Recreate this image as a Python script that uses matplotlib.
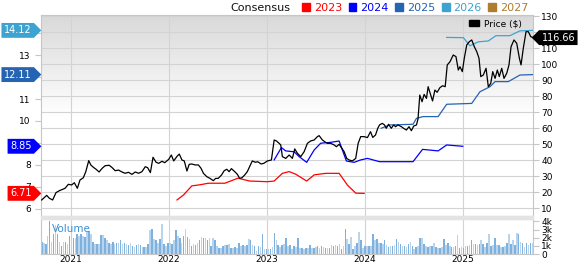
import matplotlib
matplotlib.use("Agg")
import matplotlib.pyplot as plt
import numpy as np
from matplotlib.colors import LinearSegmentedColormap
from matplotlib.patches import Patch, Rectangle
from matplotlib.path import Path
from matplotlib.transforms import blended_transform_factory

# ---- data (time in decimal years) ----
price_t = [
    2020.704, 2020.728, 2020.755, 2020.782, 2020.816, 2020.850, 2020.884, 2020.918, 2020.942, 2020.976,
    2021.010, 2021.037, 2021.068, 2021.095, 2021.129, 2021.154, 2021.184, 2021.205, 2021.232, 2021.259,
    2021.290, 2021.321, 2021.351, 2021.392, 2021.420, 2021.454, 2021.488, 2021.523, 2021.556, 2021.590,
    2021.625, 2021.659, 2021.693, 2021.727, 2021.761, 2021.785, 2021.813, 2021.840, 2021.871, 2021.898,
    2021.932, 2021.959, 2022.000, 2022.027, 2022.051, 2022.085, 2022.108, 2022.135, 2022.159, 2022.186,
    2022.209, 2022.236, 2022.270, 2022.303, 2022.330, 2022.354, 2022.388, 2022.421, 2022.455, 2022.479,
    2022.505, 2022.539, 2022.566, 2022.593, 2022.616, 2022.640, 2022.674, 2022.701, 2022.724, 2022.747,
    2022.775, 2022.802, 2022.825, 2022.853, 2022.883, 2022.909, 2022.943, 2022.970, 2022.994, 2023.007,
    2023.048, 2023.076, 2023.099, 2023.127, 2023.143, 2023.160, 2023.194, 2023.229, 2023.262, 2023.286,
    2023.313, 2023.347, 2023.382, 2023.415, 2023.449, 2023.484, 2023.517, 2023.535, 2023.568, 2023.592,
    2023.619, 2023.653, 2023.688, 2023.711, 2023.739, 2023.762, 2023.790, 2023.816, 2023.841, 2023.874,
    2023.908, 2023.933, 2023.959, 2023.994, 2024.028, 2024.059, 2024.082, 2024.110, 2024.133, 2024.151,
    2024.179, 2024.202, 2024.220, 2024.243, 2024.271, 2024.295, 2024.315, 2024.339, 2024.374, 2024.397,
    2024.425, 2024.452, 2024.476, 2024.500, 2024.528, 2024.544, 2024.562, 2024.585, 2024.606, 2024.630,
    2024.647, 2024.671, 2024.692, 2024.716, 2024.739, 2024.767, 2024.795, 2024.821, 2024.842, 2024.870,
    2024.903, 2024.931, 2024.955, 2024.972, 2024.996, 2025.016, 2025.041, 2025.067, 2025.092, 2025.118,
    2025.143, 2025.166, 2025.184, 2025.210, 2025.238, 2025.261, 2025.286, 2025.306, 2025.330, 2025.353,
    2025.373, 2025.398, 2025.421, 2025.449, 2025.472, 2025.493, 2025.523, 2025.551, 2025.578, 2025.595,
    2025.618, 2025.646, 2025.669, 2025.694, 2025.717,
]
price = [
    15.2, 16.6, 18.1, 16.3, 15.2, 19.8, 21.0, 21.9, 22.5, 25.0,
    24.6, 26.0, 22.5, 27.7, 29.1, 32.9, 39.8, 37.1, 35.6, 34.4,
    32.7, 35.0, 36.6, 36.9, 35.6, 33.5, 33.9, 32.7, 31.9, 32.5,
    31.2, 32.7, 31.9, 32.9, 36.0, 35.4, 32.3, 41.9, 38.8, 38.1,
    39.4, 38.5, 40.6, 43.3, 39.6, 42.5, 43.9, 40.2, 39.6, 33.3,
    37.5, 37.7, 37.1, 37.1, 35.0, 31.9, 29.8, 28.7, 27.3, 28.7,
    28.7, 30.8, 33.5, 34.4, 32.9, 34.8, 32.9, 31.2, 28.7, 29.1,
    30.8, 32.9, 36.0, 39.6, 38.8, 39.1, 37.7, 38.1, 39.1, 39.6,
    40.2, 52.7, 52.1, 50.6, 49.6, 42.3, 41.2, 43.3, 41.2, 47.1,
    44.4, 42.3, 45.4, 50.6, 52.1, 52.7, 54.8, 55.4, 52.7, 51.6,
    50.6, 50.6, 49.6, 48.5, 50.0, 47.9, 45.4, 41.2, 40.2, 39.6,
    41.2, 50.6, 54.8, 54.8, 54.2, 57.9, 54.3, 55.8, 60.0, 62.1,
    63.1, 62.1, 60.0, 62.5, 60.0, 62.1, 61.0, 62.1, 61.0, 60.0,
    58.9, 61.0, 58.5, 61.4, 62.1, 66.0, 80.8, 76.6, 81.2, 78.7,
    86.0, 81.2, 77.1, 83.9, 82.5, 85.4, 86.6, 86.0, 99.6, 101.6,
    105.8, 104.8, 96.4, 98.5, 95.4, 103.8, 112.1, 114.1, 115.2, 111.0,
    107.9, 103.8, 92.3, 93.3, 97.5, 86.0, 88.1, 95.4, 91.2, 96.4,
    92.3, 97.5, 91.2, 94.4, 99.6, 111.0, 115.2, 113.1, 103.8, 99.6,
    110.0, 120.4, 120.4, 117.3, 116.66,
]

cons_2023_t = [2022.085, 2022.152, 2022.236, 2022.320, 2022.404, 2022.573, 2022.707, 2022.825, 2023.007, 2023.076,
               2023.160, 2023.229, 2023.296, 2023.408, 2023.484, 2023.602, 2023.739, 2023.823, 2023.908, 2023.994]
cons_2023 = [6.41, 6.64, 7.05, 7.10, 7.17, 7.17, 7.40, 7.27, 7.24, 7.27,
             7.62, 7.70, 7.58, 7.27, 7.55, 7.62, 7.62, 7.09, 6.72, 6.71]
cons_2024_t = [2023.076, 2023.150, 2023.194, 2023.280, 2023.331, 2023.408, 2023.484, 2023.551, 2023.653, 2023.739,
               2023.813, 2023.892, 2023.959, 2024.028, 2024.151, 2024.493, 2024.590, 2024.749, 2024.836, 2025.000]
cons_2024 = [8.23, 8.79, 8.64, 8.60, 8.38, 8.12, 8.68, 8.99, 9.03, 9.09,
             8.18, 8.12, 8.23, 8.30, 8.15, 8.15, 8.71, 8.64, 8.91, 8.85]
cons_2025_t = [2024.168, 2024.254, 2024.493, 2024.528, 2024.595, 2024.749, 2024.836, 2025.092, 2025.176, 2025.278,
               2025.330, 2025.465, 2025.584, 2025.714]
cons_2025 = [9.67, 9.82, 9.85, 10.12, 10.20, 10.20, 10.76, 10.80, 11.33, 11.56,
             11.79, 11.79, 12.09, 12.11]
cons_2026_t = [2024.836, 2025.006, 2025.074, 2025.159, 2025.261, 2025.339, 2025.482, 2025.584, 2025.714]
cons_2026 = [13.80, 13.79, 13.42, 13.60, 13.64, 13.88, 13.88, 14.10, 14.12]

# weekly volume in thousands, Sep 2020 -> Sep 2025
volume_k = [
    1.5, 1.4, 1.2, 2.2, 4.1, 1.5, 2.5, 3.5, 2.5, 1.5, 1.0, 1.5, 1.5, 1.2, 2.2, 3.5, 1.9, 1.9, 2.5, 2.2,
    2.5, 2.2, 2.1, 2.7, 2.8, 2.5, 1.5, 1.2, 1.2, 1.2, 2.3, 2.3, 1.9, 1.7, 1.4, 1.2, 1.5, 1.2, 1.4, 1.4,
    1.7, 1.2, 1.4, 1.2, 1.1, 1.4, 1.0, 0.9, 1.1, 1.2, 1.1, 0.8, 0.9, 0.8, 1.2, 2.9, 3.1, 1.8, 1.7, 1.4,
    1.8, 3.7, 1.2, 1.0, 1.4, 1.4, 1.2, 1.7, 3.0, 2.2, 1.9, 1.4, 2.2, 3.1, 2.1, 1.8, 1.0, 1.2, 1.1, 1.4,
    1.7, 2.1, 1.9,
    1.9, 1.7, 1.9, 1.0, 1.9, 1.7, 1.0, 0.7, 0.7, 1.0, 1.1, 1.1, 1.2, 0.7, 0.7, 0.8, 0.7, 1.4, 1.0, 1.1,
    1.0, 1.1, 1.8, 1.7, 1.1, 1.0, 0.4, 1.0, 0.8, 2.4, 0.6, 0.6, 0.6, 0.6, 0.8, 2.6, 1.7, 1.1, 0.8, 1.1,
    1.2, 1.9, 1.0, 1.1, 0.6, 1.0, 0.8, 1.9, 0.7, 0.7, 0.6, 0.7, 0.7, 1.1, 0.7, 0.7, 0.8, 1.0, 0.7, 1.0,
    0.8, 0.7, 0.7, 0.7, 1.1, 1.0, 1.1, 1.0, 1.2, 0.6, 1.0, 3.1, 1.8, 1.2, 2.1, 0.6, 1.0, 1.4, 2.7, 1.7,
    0.7, 1.0, 1.0,
    1.0, 1.0, 2.4, 1.7, 1.8, 1.4, 1.4, 1.2, 1.7, 1.1, 0.8, 1.0, 1.0, 1.1, 1.8, 1.5, 1.2, 1.0, 1.0, 0.8,
    1.2, 1.5, 1.0, 0.6, 0.8, 1.0, 1.9, 1.9, 1.2, 1.0, 0.8, 1.0, 1.0, 1.4, 0.8, 0.7, 0.7, 0.8, 1.8, 1.1,
    1.4, 1.0, 0.8, 0.8, 1.0, 2.3, 0.7, 0.8, 0.7, 1.0, 1.0, 1.1, 1.7, 1.2, 1.2, 1.1, 1.2, 1.7, 1.2, 0.8,
    1.4, 2.5, 1.0, 1.1, 1.9, 1.1, 1.1, 0.8, 0.8, 1.0, 1.4, 2.5, 1.2, 1.7, 1.1, 2.6, 2.5, 1.5, 1.4, 0.8,
    1.4, 1.1, 1.4, 1.4,
]
volume_start, volume_end = 2020.705, 2025.712

years = [2021, 2022, 2023, 2024, 2025]
legend_years = ["2023", "2024", "2025", "2026", "2027"]
legend_colors = ["#ff0000", "#0000ff", "#2563b3", "#3fa3d2", "#b07d2e"]
eps_ticks = list(range(6, 15))
price_ticks = list(range(10, 131, 10))
vol_ticks = [0, 1, 2, 3, 4]
vol_labels = ["0", "1k", "2k", "3k", "4k"]

# ---- layout (pixel boxes of the 578x264 canvas) ----
W, H = 578, 264
fig = plt.figure(figsize=(W / 100, H / 100), dpi=100)


def rect(x0, y0, x1, y1):
    return [x0 / W, 1 - y1 / H, (x1 - x0) / W, (y1 - y0) / H]


price_box = rect(41, 15, 533, 216)
vol_box = rect(41, 218.5, 533, 254)
xlim = (2020.697, 2025.717)
price_lim = (5.2, 130.8)
eps_lim = (5.68, 14.82)
grid_c = "#d3d3d3"
frame_c = "#c6c6c6"
tick_fs = 6.5

# background with gradient + grid
bg = fig.add_axes(price_box)
cmap = LinearSegmentedColormap.from_list("bg", [(0, "white"), (0.5, "white"), (1, "#d9d9d9")])
bg.imshow(np.linspace(0, 1, 256)[:, None], extent=[0, 1, 0, 1], transform=bg.transAxes,
          origin="lower", aspect="auto", cmap=cmap, zorder=0)
bg.set_xlim(xlim)
bg.set_ylim(price_lim)
bg.set_xticks(years)
bg.set_yticks(price_ticks)
bg.grid(True, color=grid_c, lw=0.8)
bg.tick_params(left=False, bottom=False, labelleft=False, labelbottom=False)
for s in bg.spines.values():
    s.set_color(frame_c)

# consensus lines (left axis); labels under the value tags stay blank
ax_e = fig.add_axes(price_box, sharex=bg)
ax_e.patch.set_visible(False)
ax_e.set_ylim(eps_lim)
ax_e.set_yticks(eps_ticks, ["" if v in (9, 12, 14) else str(v) for v in eps_ticks])
ax_e.tick_params(axis="y", length=4.3, width=0.8, color=frame_c, pad=3, labelsize=tick_fs)
ax_e.tick_params(axis="x", bottom=False, labelbottom=False)
for s in ax_e.spines.values():
    s.set_visible(False)
series = [(cons_2023_t, cons_2023, legend_colors[0]),
          (cons_2024_t, cons_2024, legend_colors[1]),
          (cons_2025_t, cons_2025, legend_colors[2]),
          (cons_2026_t, cons_2026, legend_colors[3])]
for t, v, c in series:
    ax_e.plot(t, v, color=c, lw=0.9)

# price line (right axis)
ax_p = fig.add_axes(price_box, sharex=bg)
ax_p.patch.set_visible(False)
ax_p.set_ylim(price_lim)
ax_p.yaxis.tick_right()
ax_p.set_yticks(price_ticks, ["" if v == 120 else str(v) for v in price_ticks])
ax_p.tick_params(axis="y", length=4, width=0.8, color=frame_c, pad=2, labelsize=tick_fs)
ax_p.tick_params(axis="x", bottom=False, labelbottom=False)
for s in ax_p.spines.values():
    s.set_visible(False)
ax_p.plot(price_t, price, color="black", lw=0.9)
ax_p.legend([Patch(color="black")], ["Price ($)"], loc="upper right",
            bbox_to_anchor=(522 / W, 1 - 19 / H), bbox_transform=fig.transFigure,
            frameon=False, fontsize=6.5, handlelength=1.1, handleheight=0.55,
            handletextpad=0.6, borderpad=0, borderaxespad=0)

# volume panel
ax_v = fig.add_axes(vol_box, sharex=bg)
n = len(volume_k)
vol_t = volume_start + np.arange(n) * (volume_end - volume_start) / (n - 1)
bar_colors = ["#7eb1de" if i % 2 == 0 else "#b9d5ee" for i in range(n)]
ax_v.bar(vol_t, volume_k, width=0.016, color=bar_colors, zorder=2)
ax_v.set_ylim(0, 4.35)
ax_v.yaxis.tick_right()
ax_v.set_yticks(vol_ticks, vol_labels)
ax_v.set_xticks(years, [str(y) for y in years])
ax_v.grid(True, axis="x", color=grid_c, lw=0.8, zorder=1)
ax_v.tick_params(axis="y", length=4, width=0.8, color=frame_c, pad=2, labelsize=tick_fs)
ax_v.tick_params(axis="x", length=0, pad=0.6, labelsize=tick_fs)
for s in ax_v.spines.values():
    s.set_color(frame_c)
ax_v.text(0.022, 0.62, "Volume", transform=ax_v.transAxes, color="#3c8fd0", fontsize=7.5)
ax_v.set_xlim(xlim)

# band between panels
fig.patches.append(Rectangle((41 / W, 1 - 218.5 / H), 492 / W, 2.5 / H,
                             transform=fig.transFigure, color="#e3e3e3"))


# value tags
def tag_right(x0, y0, width, height, mutation_size):
    pad = 0.25 * mutation_size
    x0, y0, x1, y1 = x0 - pad, y0 - pad, x0 + width + pad, y0 + height + pad
    tip = (y1 - y0) * 0.5
    return Path([(x0, y0), (x1, y0), (x1 + tip, (y0 + y1) / 2), (x1, y1), (x0, y1), (x0, y0)], closed=True)


def tag_left(x0, y0, width, height, mutation_size):
    pad = 0.25 * mutation_size
    x0, y0, x1, y1 = x0 - pad, y0 - pad, x0 + width + pad, y0 + height + pad
    tip = (y1 - y0) * 0.5
    return Path([(x1, y0), (x0, y0), (x0 - tip, (y0 + y1) / 2), (x0, y1), (x1, y1), (x1, y0)], closed=True)


eps_tr = blended_transform_factory(fig.transFigure, ax_e.transData)
for t, v, c in series:
    fig.text(31.5 / W, v[-1], f"{v[-1]:.2f}", transform=eps_tr, ha="right", va="center",
             color="white", fontsize=7, bbox=dict(boxstyle=tag_right, fc=c, ec="none"))

price_tr = blended_transform_factory(fig.transFigure, ax_p.transData)
fig.text(541.5 / W, price[-1], f"{price[-1]:.2f}", transform=price_tr, ha="left", va="center",
         color="white", fontsize=7, bbox=dict(boxstyle=tag_left, fc="black", ec="none"))

# header legend
fig.text(230 / W, 1 - 8 / H, "Consensus", fontsize=8, va="center", color="#111111")
leg = fig.legend([Patch(color=c) for c in legend_colors], legend_years, loc="center left",
                 bbox_to_anchor=(302 / W, 1 - 8 / H), ncol=5, frameon=False, fontsize=8,
                 handlelength=0.7, handleheight=0.7, handletextpad=0.35, columnspacing=0.6,
                 borderpad=0, borderaxespad=0)
for txt, c in zip(leg.get_texts(), legend_colors):
    txt.set_color(c)

fig.savefig("out.png", dpi=100)
